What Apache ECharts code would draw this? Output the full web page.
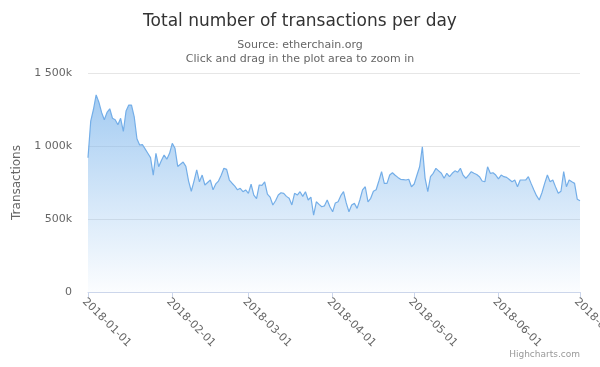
<!DOCTYPE html>
<html><head><meta charset="utf-8">
<script src="https://cdn.jsdelivr.net/npm/echarts@6/dist/echarts.min.js"></script>
<style>html,body{margin:0;padding:0;background:#fff}#c{width:600px;height:367px}</style>
</head><body><div id="c"></div>
<script>
// Daily transactions (thousands), 2018-01-01 .. 2018-07-01
var startDate = '2018-01-01';
var transactionsK = [
 920,1170,1250,1350,1300,1230,1180,1230,1255,1190,
 1180,1145,1190,1100,1240,1280,1280,1200,1050,1007,
 1010,980,950,920,801,950,858,900,938,910,
 950,1018,984,860,875,890,860,760,690,760,
 836,755,801,733,750,767,700,740,760,800,
 847,840,767,745,725,700,710,687,699,676,
 738,664,640,733,730,755,670,650,596,625,
 665,680,676,655,642,596,676,664,687,655,
 687,630,650,527,618,600,584,590,630,584,
 550,610,618,660,687,610,550,596,607,573,
 630,700,721,618,642,690,700,760,824,744,
 744,801,817,800,785,772,770,767,772,721,
 740,800,858,995,780,687,790,813,847,830,
 813,779,813,790,813,830,820,847,800,779,
 801,824,813,805,790,760,755,858,813,817,
 801,775,801,790,785,770,755,767,721,767,
 767,767,790,744,700,660,630,680,744,801,
 755,767,720,676,690,824,721,767,755,744,
 635,625
];
var yTicksK = [0, 500, 1000, 1500];
var yTickLabels = ['0', '500k', '1 000k', '1 500k'];

var dates = [];
(function(){
  var d = new Date(startDate + 'T00:00:00Z');
  for (var i = 0; i < transactionsK.length; i++) {
    dates.push(d.toISOString().slice(0,10));
    d.setUTCDate(d.getUTCDate() + 1);
  }
})();
function isMonthStart(i){ return dates[i].slice(8,10) === '01'; }

var chart = echarts.init(document.getElementById('c'), null, {renderer:'canvas'});
chart.setOption({
  animation:false,
  backgroundColor:'#ffffff',
  title:[
    {text:'Total number of transactions per day', left:'center', top:8,
     textStyle:{fontFamily:'DejaVu Sans', fontSize:17, fontWeight:'normal', color:'#333333'}},
    {text:'Source: etherchain.org', left:'center', top:35,
     textStyle:{fontFamily:'DejaVu Sans', fontSize:11, fontWeight:'normal', color:'#666666'}},
    {text:'Click and drag in the plot area to zoom in', left:'center', top:49,
     textStyle:{fontFamily:'DejaVu Sans', fontSize:11, fontWeight:'normal', color:'#666666'}}
  ],
  grid:{left:88, right:20, top:73, bottom:75, containLabel:false, outerBoundsMode:'none'},
  xAxis:{
    type:'category', data:dates, boundaryGap:false,
    axisLine:{lineStyle:{color:'#ccd6eb', width:1}},
    axisTick:{show:true, length:6, interval:function(i){return isMonthStart(i);}, lineStyle:{color:'#ccd6eb'}},
    axisLabel:{interval:function(i){return isMonthStart(i);}, rotate:-45, margin:4, verticalAlign:'top',
      fontFamily:'DejaVu Sans', fontSize:11, color:'#666666', hideOverlap:false},
    splitLine:{show:false}
  },
  yAxis:{
    type:'value', min:0, max:1500, interval:500,
    name:'Transactions', nameLocation:'middle', nameGap:52, nameRotate:90,
    nameTextStyle:{fontFamily:'DejaVu Sans', fontSize:12, color:'#666666'},
    axisLine:{show:false}, axisTick:{show:false},
    axisLabel:{fontFamily:'DejaVu Sans', fontSize:11, color:'#666666', margin:16,
      formatter:function(v){var k=yTicksK.indexOf(v); return k>=0?yTickLabels[k]:'';}},
    splitLine:{lineStyle:{color:'#e6e6e6', width:1}}
  },
  series:[{
    type:'line', data:transactionsK, symbol:'none', smooth:false,
    lineStyle:{color:'#74aee8', width:1.2},
    areaStyle:{color:new echarts.graphic.LinearGradient(0,0,0,1,[
      {offset:0, color:'rgba(124,181,236,1)'},
      {offset:0.55, color:'rgba(124,181,236,0.45)'},
      {offset:1, color:'rgba(124,181,236,0.04)'}
    ])}
  }],
  graphic:[{type:'text', right:20, bottom:8,
    style:{text:'Highcharts.com', fontFamily:'DejaVu Sans', fontSize:9, fill:'#999999'}}]
});
</script></body></html>
